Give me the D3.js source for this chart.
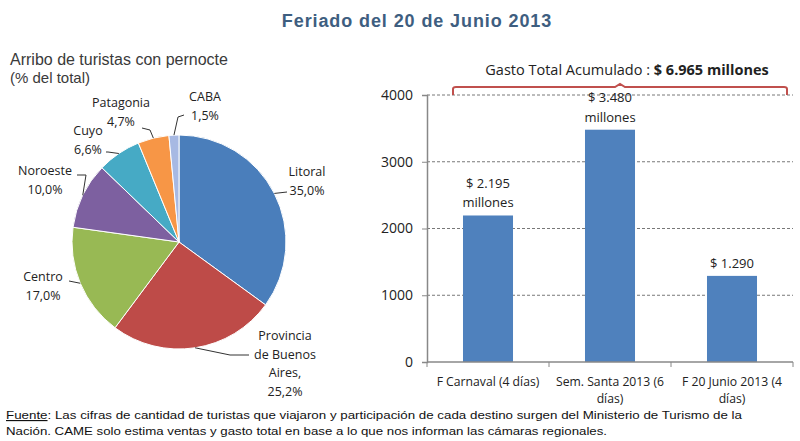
<!DOCTYPE html>
<html><head><meta charset="utf-8">
<script src="https://cdn.jsdelivr.net/npm/d3@7"></script>
<style>body{margin:0;background:#fff}svg{display:block}</style>
</head><body>
<svg id="c" width="800" height="441"></svg>
<script>
// ---- data ----
const regions = ["Litoral","Provincia de Buenos Aires","Centro","Noroeste","Cuyo","Patagonia","CABA"];
const shares = [35.0,25.2,17.0,10.0,6.6,4.7,1.5];
const shareLabels = [["Litoral","35,0%"],["Provincia","de Buenos","Aires,","25,2%"],["Centro","17,0%"],["Noroeste","10,0%"],["Cuyo","6,6%"],["Patagonia","4,7%"],["CABA","1,5%"]];
const periods = [["F Carnaval (4 días)"],["Sem. Santa 2013 (6","días)"],["F 20 Junio 2013 (4","días)"]];
const spend = [2195,3480,1290];
const spendLabels = [["$ 2.195","millones"],["$ 3.480","millones"],["$ 1.290"]];
const yTicks = [0,1000,2000,3000,4000];

// ---- layout ----
const svg = d3.select("#c");
const font = "'Open Sans', sans-serif";
const pieColors = ["#4A7EBB","#BE4B48","#98B954","#7D60A0","#46AAC5","#F79646","#A7B9E3"];

svg.append("text").attr("x",417).attr("y",27).attr("text-anchor","middle")
  .attr("font-family","Arial, 'Liberation Sans', sans-serif").attr("font-weight","bold")
  .attr("font-size",18).attr("letter-spacing",0.9).attr("fill","#3E5E80").text("Feriado del 20 de Junio 2013");

svg.append("text").attr("x",10).attr("y",65).attr("font-family","'Liberation Sans', Arial, sans-serif")
  .attr("font-size",16).attr("fill","#3a3a3a").text("Arribo de turistas con pernocte");
svg.append("text").attr("x",10).attr("y",83).attr("font-family","'Liberation Sans', Arial, sans-serif")
  .attr("font-size",15).attr("fill","#3a3a3a").text("(% del total)");

// ---- pie ----
const cx=179, cy=242, R=107;
const pie = d3.pie().sort(null).value(d=>d)(shares);
const arc = d3.arc().innerRadius(0).outerRadius(R);
const gp = svg.append("g").attr("transform",`translate(${cx},${cy})`);
gp.selectAll("path").data(pie).join("path").attr("d",arc)
  .attr("fill",(d,i)=>pieColors[i]).attr("stroke","#fff").attr("stroke-width",1);

// label placements: anchor x, first baseline y, leader elbow point, leader end point
const lab = [
  {x:307,y:176, elbow:null, end:[287,192]},
  {x:285,y:340, elbow:[230,355], end:[249,355]},
  {x:43, y:281, elbow:null, end:[69,281]},
  {x:45, y:175, elbow:[86,175], end:[77,175]},
  {x:88, y:135, elbow:[108,152], end:[106,152]},
  {x:121,y:107, elbow:[150,130], end:[142,128]},
  {x:205,y:101, elbow:[178,117], end:[184,115]}
];
const line = d3.line();
pie.forEach((d,i)=>{
  const a=(d.startAngle+d.endAngle)/2;
  const p=[cx+R*Math.sin(a), cy-R*Math.cos(a)];
  const L=lab[i];
  const pts=[p]; if(L.elbow) pts.push(L.elbow); pts.push(L.end);
  svg.append("path").attr("d",line(pts)).attr("fill","none").attr("stroke","#333").attr("stroke-width",1);
  const t=svg.append("text").attr("font-family",font).attr("font-size",12.5).attr("fill","#222").attr("text-anchor","middle");
  shareLabels[i].forEach((s,k)=>t.append("tspan").attr("x",L.x).attr("y",L.y+k*18.5).text(s));
});

// ---- bars ----
const x0=427, x1=793, yTop=95, yBot=362;
const x = d3.scaleBand().domain(d3.range(spend.length)).range([x0,x1]).paddingInner(0.59).paddingOuter(0.295);
const y = d3.scaleLinear().domain([0,4000]).range([yBot,yTop]);
const gb = svg.append("g");
gb.selectAll("line.grid").data(yTicks.filter(v=>v>0)).join("line").attr("class","grid")
  .attr("x1",x0).attr("x2",x1).attr("y1",d=>y(d)).attr("y2",d=>y(d))
  .attr("stroke","#555").attr("stroke-width",0.8).attr("stroke-dasharray","3,2");
gb.selectAll("rect").data(spend).join("rect")
  .attr("x",(d,i)=>x(i)).attr("width",x.bandwidth()).attr("y",d=>y(d)).attr("height",d=>yBot-y(d)).attr("fill","#4F81BD");

const ya = d3.axisLeft(y).tickValues(yTicks).tickFormat(d3.format("d")).tickSize(5).tickPadding(9);
const gy = svg.append("g").attr("transform",`translate(${x0},0)`).call(ya);
gy.select(".domain").attr("stroke","#888").attr("stroke-width",1.5);
gy.selectAll(".tick line").attr("stroke","#888");
gy.selectAll(".tick text").attr("font-family",font).attr("font-size",14).attr("fill","#222");

// x axis
const xOuter = d3.scaleLinear().domain([0,spend.length]).range([x0,x1]);
svg.append("line").attr("x1",x0).attr("x2",x1).attr("y1",yBot).attr("y2",yBot).attr("stroke","#888").attr("stroke-width",1.5);
svg.selectAll("line.xt").data(d3.range(spend.length+1)).join("line").attr("class","xt")
  .attr("x1",d=>xOuter(d)).attr("x2",d=>xOuter(d)).attr("y1",yBot).attr("y2",yBot+5).attr("stroke","#888");
periods.forEach((p,i)=>{
  const t=svg.append("text").attr("font-family",font).attr("font-size",12.2).attr("fill","#222").attr("text-anchor","middle");
  p.forEach((s,k)=>t.append("tspan").attr("x",x(i)+x.bandwidth()/2).attr("y",386+k*17).text(s));
});
spendLabels.forEach((p,i)=>{
  const n=p.length;
  const t=svg.append("text").attr("font-family",font).attr("font-size",13).attr("fill","#222").attr("text-anchor","middle");
  p.forEach((s,k)=>t.append("tspan").attr("x",x(i)+x.bandwidth()/2).attr("y",y(spend[i])-8-(n-1-k)*19.5).text(s));
});

// bracket
const bl=453, br=787, bmid=620, by=87;
svg.append("path").attr("d",`M${bl},${by+8} L${bl},${by+2} Q${bl},${by} ${bl+3},${by} L${bmid-5},${by} L${bmid},${by-3} L${bmid+5},${by} L${br-3},${by} Q${br},${by} ${br},${by+2} L${br},${by+8}`)
  .attr("fill","none").attr("stroke","#C0504D").attr("stroke-width",2);
const tt=svg.append("text").attr("x",627).attr("y",75).attr("text-anchor","middle").attr("font-family",font).attr("font-size",14.5).attr("fill","#222");
tt.append("tspan").text("Gasto Total Acumulado : ");
tt.append("tspan").attr("font-weight","bold").text("$ 6.965 millones");

// footnote
const fn=svg.append("text").attr("x",6).attr("y",419).attr("font-family","'Liberation Sans Narrow', 'Liberation Sans', Arial, sans-serif").attr("font-size",11.5).attr("fill","#111")
  .attr("textLength",736).attr("lengthAdjust","spacingAndGlyphs");
fn.append("tspan").attr("text-decoration","underline").text("Fuente");
fn.append("tspan").text(": Las cifras de cantidad de turistas que viajaron y participación de cada destino surgen del Ministerio de Turismo de la");
svg.append("text").attr("x",6).attr("y",435).attr("font-family","'Liberation Sans Narrow', 'Liberation Sans', Arial, sans-serif").attr("font-size",11.5).attr("fill","#111")
  .attr("textLength",601).attr("lengthAdjust","spacingAndGlyphs")
  .text("Nación. CAME solo estima ventas y gasto total en base a lo que nos informan las cámaras regionales.");
</script>
</body></html>
